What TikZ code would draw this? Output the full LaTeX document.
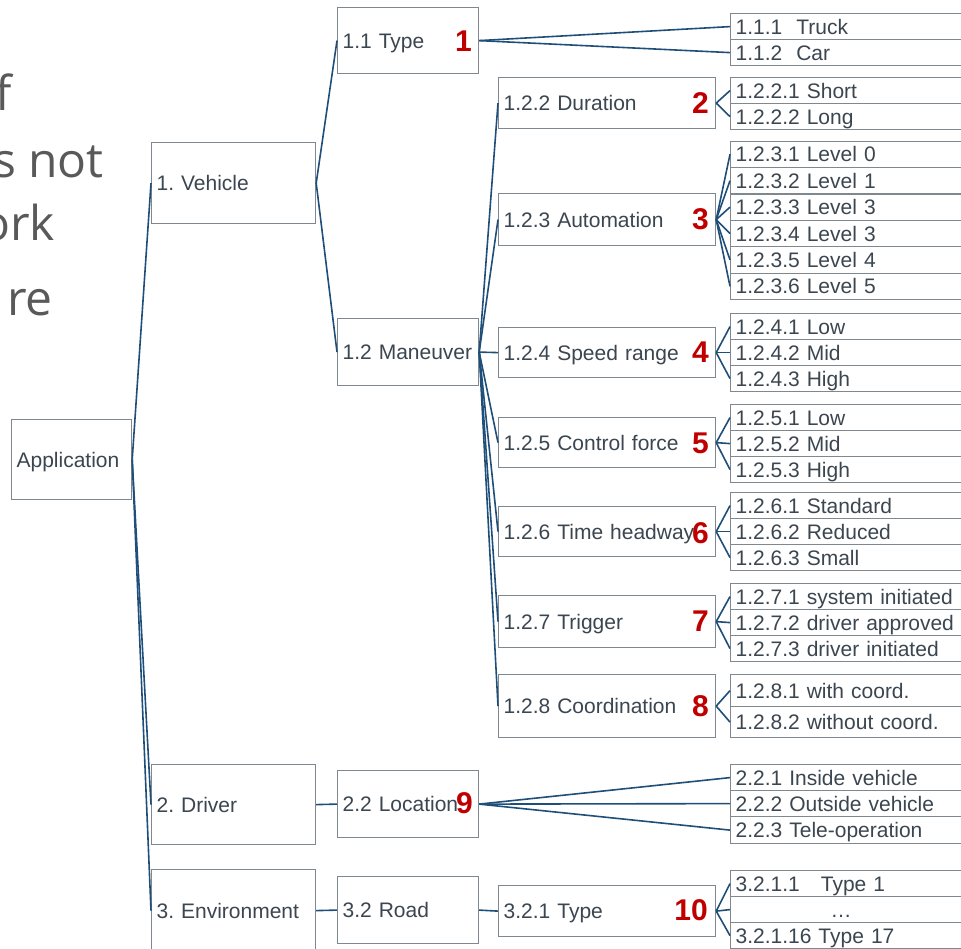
\documentclass[tikz,border=0pt]{standalone}
\usepackage{fontspec}
\setmainfont{Liberation Sans}
\newfontfamily\slidefont{Open Sans}
\definecolor{boxc}{RGB}{128,136,143}
\definecolor{textc}{RGB}{59,70,80}
\definecolor{linkc}{RGB}{31,78,121}
\definecolor{numc}{RGB}{192,0,0}
\definecolor{slidec}{RGB}{89,89,89}
\tikzset{
  box/.style={draw=boxc, line width=1.2pt, fill=white, inner xsep=5pt, inner ysep=0pt,
    anchor=north west, align=left, text=textc, font=\fontsize{21}{24}\selectfont\frenchspacing,
    text height=15pt, text depth=0pt},
  leaf/.style={box, minimum width=300pt, text width=290pt},
  num/.style={anchor=east, inner sep=0pt, text=numc, font=\fontsize{30}{32}\selectfont\bfseries},
  link/.style={draw=linkc, line width=1.6pt},
  slidetext/.style={anchor=base east, inner sep=0pt, text=slidec, font=\slidefont\fontsize{48}{52}\selectfont}
}
% \bx{name}{x}{y}{width}{height}{label}
\newcommand\bx[6]{\node[box, minimum width=#4pt, minimum height=#5pt, text width=#4pt-10pt] (#1) at (#2,#3) {#6};}
% \lf{name}{y}{height}{label}
\newcommand\lf[4]{\node[leaf, minimum height=#3pt] (#1) at (730,#2) {#4};}
\begin{document}
\frenchspacing
\begin{tikzpicture}[x=1pt,y=-1pt]
\useasboundingbox (0,0) rectangle (961,948);
\clip (0,0) rectangle (961,948);

% slide text behind the tree
\node[slidetext] (s1) at (12,110) {f};
\node[slidetext] (s2) at (104,177) {s not};
\node[slidetext] (s3) at (55,240) {ork};
\node[slidetext] (s4) at (53,315) {re};

% level 0 and 1
\bx{app}{11}{419}{120}{80}{Application}
\bx{veh}{151}{142}{164}{81}{1. Vehicle}
\bx{drv}{151}{764}{164}{80}{2. Driver}
\bx{env}{151}{869}{164}{82}{3. Environment}

% level 2
\bx{typ}{337}{7}{141}{66}{1.1 Type}
\bx{man}{337}{318}{141}{67}{1.2 Maneuver}
\bx{loc}{337}{770}{141}{67}{2.2 Location}
\bx{road}{337}{876}{141}{67}{3.2 Road}

% level 3
\bx{dur}{498}{77}{217}{51}{1.2.2 Duration}
\bx{aut}{498}{193}{217}{52}{1.2.3 Automation}
\bx{spd}{498}{327}{217}{50}{1.2.4 Speed range}
\bx{ctl}{498}{417}{217}{50}{1.2.5 Control force}
\bx{hdw}{498}{506}{217}{50}{1.2.6 Time headway}
\bx{trg}{498}{595}{217}{52}{1.2.7 Trigger}
\bx{crd}{498}{674}{217}{63}{1.2.8 Coordination}
\bx{rtp}{498}{885}{217}{51}{3.2.1 Type}

% leaves
\lf{t1}{13}{26}{1.1.1~~Truck}
\lf{t2}{39}{26}{1.1.2~~Car}
\lf{d1}{77}{26}{1.2.2.1 Short}
\lf{d2}{103}{26}{1.2.2.2 Long}
\lf{a1}{140.5}{26.4}{1.2.3.1 Level 0}
\lf{a2}{166.9}{26.4}{1.2.3.2 Level 1}
\lf{a3}{193.3}{26.4}{1.2.3.3 Level 3}
\lf{a4}{219.7}{26.4}{1.2.3.4 Level 3}
\lf{a5}{246.1}{26.4}{1.2.3.5 Level 4}
\lf{a6}{272.5}{26.4}{1.2.3.6 Level 5}
\lf{p1}{313}{26}{1.2.4.1 Low}
\lf{p2}{339}{26}{1.2.4.2 Mid}
\lf{p3}{365}{26}{1.2.4.3 High}
\lf{c1}{404}{26}{1.2.5.1 Low}
\lf{c2}{430}{26}{1.2.5.2 Mid}
\lf{c3}{456}{26}{1.2.5.3 High}
\lf{h1}{492}{26}{1.2.6.1 Standard}
\lf{h2}{518}{26}{1.2.6.2 Reduced}
\lf{h3}{544}{26}{1.2.6.3 Small}
\lf{g1}{583}{26}{1.2.7.1 system initiated}
\lf{g2}{609}{26}{1.2.7.2 driver approved}
\lf{g3}{635}{26}{1.2.7.3 driver initiated}
\lf{o1}{674}{32}{1.2.8.1 with coord.}
\lf{o2}{706}{31}{1.2.8.2 without coord.}
\lf{l1}{764}{26}{2.2.1 Inside vehicle}
\lf{l2}{790}{26}{2.2.2 Outside vehicle}
\lf{l3}{816}{27}{2.2.3 Tele-operation}
\lf{r1}{870}{26}{3.2.1.1~~ Type 1}
\lf{r2}{896}{26}{\hspace*{95pt}\dots}
\lf{r3}{922}{26}{3.2.1.16 Type 17}

% red index numbers
\node[num] (n1) at (472,41) {1};
\node[num] (n2) at (709,103) {2};
\node[num] (n3) at (709,219) {3};
\node[num] (n4) at (709,352) {4};
\node[num] (n5) at (709,443) {5};
\node[num] (n6) at (709,533) {6};
\node[num] (n7) at (709,621) {7};
\node[num] (n8) at (709,706) {8};
\node[num] (n9) at (473,803) {9};
\node[num] (n10) at (708,910) {10};

% connectors
\foreach \c in {veh,drv,env} \draw[link] (app.east) -- (\c.west);
\foreach \c in {typ,man} \draw[link] (veh.east) -- (\c.west);
\draw[link] (drv.east) -- (loc.west);
\draw[link] (env.east) -- (road.west);
\foreach \c in {t1,t2} \draw[link] (typ.east) -- (\c.west);
\foreach \c in {dur,aut,spd,ctl,hdw,trg,crd} \draw[link] (man.east) -- (\c.west);
\foreach \c in {d1,d2} \draw[link] (dur.east) -- (\c.west);
\foreach \c in {a1,a2,a3,a4,a5,a6} \draw[link] (aut.east) -- (\c.west);
\foreach \c in {p1,p2,p3} \draw[link] (spd.east) -- (\c.west);
\foreach \c in {c1,c2,c3} \draw[link] (ctl.east) -- (\c.west);
\foreach \c in {h1,h2,h3} \draw[link] (hdw.east) -- (\c.west);
\foreach \c in {g1,g2,g3} \draw[link] (trg.east) -- (\c.west);
\foreach \c in {o1,o2} \draw[link] (crd.east) -- (\c.west);
\foreach \c in {l1,l2,l3} \draw[link] (loc.east) -- (\c.west);
\draw[link] (road.east) -- (rtp.west);
\foreach \c in {r1,r2,r3} \draw[link] (rtp.east) -- (\c.west);
\end{tikzpicture}
\end{document}
